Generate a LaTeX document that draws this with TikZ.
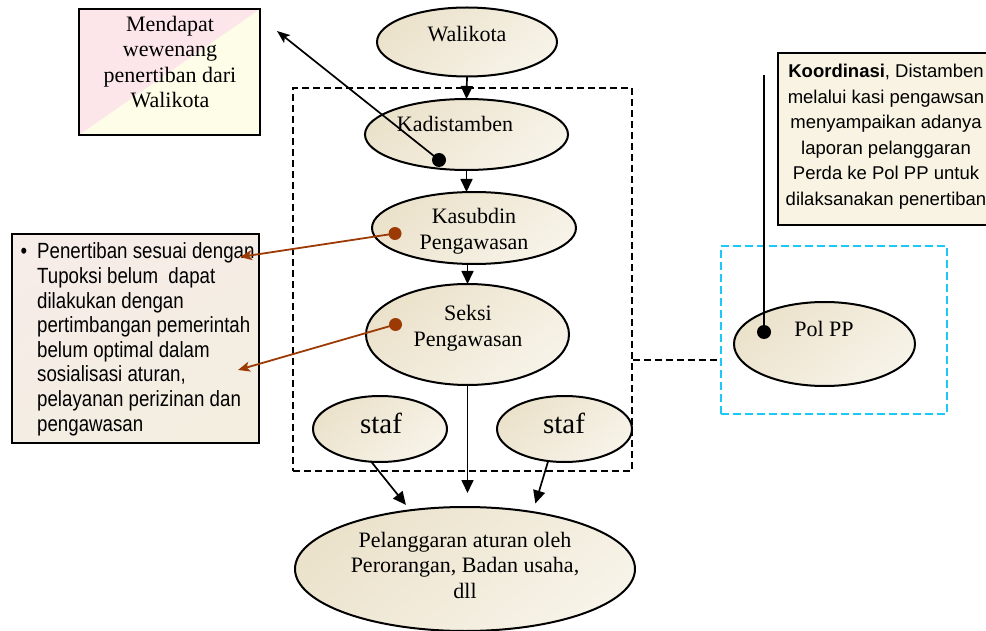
\documentclass[tikz,border=0pt]{standalone}
\usepackage{fontspec}
\setmainfont{Liberation Serif}
\newfontfamily\narrowsans[FakeStretch=0.85]{Liberation Sans}
\newfontfamily\notesans{Liberation Sans}
\usetikzlibrary{shapes.geometric,arrows.meta}

\definecolor{ovalTop}{HTML}{EBE2CB}
\definecolor{ovalBot}{HTML}{F7F3E8}
\definecolor{pinkPart}{HTML}{FDE6EA}
\definecolor{creamPart}{HTML}{FEFDE8}
\definecolor{noteTop}{HTML}{F6ECE8}
\definecolor{noteBot}{HTML}{F3EEE0}
\definecolor{noteRight}{HTML}{F8F3E3}
\definecolor{rust}{HTML}{9C3A06}
\definecolor{skyline}{HTML}{1CC8F5}

\begin{document}
\begin{tikzpicture}[x=1pt,y=-1pt,
  oval/.style={ellipse, draw=black, line width=2pt, top color=ovalTop,
    bottom color=ovalBot, shading angle=40, inner sep=0pt, outer sep=0pt},
  % multi-line labels are placed by the baseline of their last line
  lbl/.style={anchor=base, align=center, inner sep=0pt,
    font=\fontsize{22}{26}\selectfont},
  staflbl/.style={anchor=base, inner sep=0pt, font=\fontsize{29}{30}\selectfont},
  conn/.style={draw=black, line width=1.7pt},
  tri/.style={conn, -{Triangle[length=13pt,width=12pt]}},
  pointer/.style={conn, -{Stealth[length=13pt,width=10pt,inset=3pt]}},
  rustpointer/.style={draw=rust, line width=1.8pt,
    -{Stealth[length=12pt,width=10pt,inset=3pt]}},
  blackdot/.style={circle, fill=black, inner sep=0pt, minimum size=14pt},
  rustdot/.style={circle, fill=rust, inner sep=0pt, minimum size=13pt},
  grpbox/.style={rectangle, draw=black, line width=1.8pt,
    dash pattern=on 7pt off 4pt, inner sep=0pt},
  polframe/.style={rectangle, draw=skyline, line width=1.8pt,
    dash pattern=on 8pt off 4pt, inner sep=0pt},
  notebox/.style={rectangle, draw=black, line width=2pt, inner sep=0pt},
]
\useasboundingbox (0,0) rectangle (986,631);

% --- note boxes -------------------------------------------------------
\node[notebox, minimum width=181pt, minimum height=126pt, fill=creamPart,
  path picture={\fill[pinkPart] (path picture bounding box.south west)
     -- (path picture bounding box.north west)
     -- (path picture bounding box.north east) -- cycle;}]
  (wewenang) at (169.5,72) {};
\node[lbl, font=\fontsize{22}{25.5}\selectfont] at (170,108)
  {Mendapat\\wewenang\\penertiban dari\\Walikota};

\node[notebox, minimum width=247pt, minimum height=209pt,
  top color=noteTop, bottom color=noteBot, shading angle=30]
  (kendala) at (135.5,338.5) {};
\node[anchor=base west, align=left, inner sep=0pt,
  font=\narrowsans\fontsize{22}{24.6}\selectfont] at (37,431)
  {\llap{\textbullet\hspace{10pt}}Penertiban sesuai dengan\\
   Tupoksi belum~ dapat\\
   dilakukan dengan\\
   pertimbangan pemerintah\\
   belum optimal dalam\\
   sosialisasi aturan,\\
   pelayanan perizinan dan\\
   pengawasan};

\node[notebox, minimum width=214pt, minimum height=172pt, fill=noteRight]
  (koordinasi) at (885,139) {};
\node[anchor=base, align=center, inner sep=0pt,
  font=\notesans\fontsize{18.5}{25.6}\selectfont] at (886,205.5)
  {\textbf{Koordinasi}, Distamben\\
   melalui kasi pengawsan\\
   menyampaikan adanya\\
   laporan pelanggaran\\
   Perda ke Pol PP untuk\\
   dilaksanakan penertiban};

% --- dashed frames ----------------------------------------------------
\node[grpbox, minimum width=339pt, minimum height=383pt] (dinas) at (462.5,279.5) {};
\node[polframe, minimum width=226pt, minimum height=168pt] (polzone) at (834,330) {};
\draw[line width=1.8pt, dash pattern=on 7pt off 4pt]
  (dinas.east |- 0,360) -- (polzone.west |- 0,360);

% --- organisation ovals -----------------------------------------------
\node[oval, minimum width=180pt, minimum height=69pt]  (wali)    at (467,42) {};
\node[oval, minimum width=203pt, minimum height=71pt]  (kadis)   at (466.5,134.5) {};
\node[oval, minimum width=204pt, minimum height=72pt]  (kasub)   at (474,228) {};
\node[oval, minimum width=203pt, minimum height=101pt] (seksi)   at (467.5,334.5) {};
\node[oval, minimum width=134pt, minimum height=66pt]  (stafL)   at (380,429) {};
\node[oval, minimum width=135pt, minimum height=66pt]  (stafR)   at (564.5,429) {};
\node[oval, minimum width=340pt, minimum height=124pt] (langgar) at (465,569) {};
\node[oval, minimum width=181pt, minimum height=84pt]  (pol)     at (824.5,344) {};

\node[lbl] at (467,42)  {Walikota};
\node[lbl] at (455,132) {Kadistamben};
\node[lbl] at (474,250) {Kasubdin\\Pengawasan};
\node[lbl] at (468,346) {Seksi\\Pengawasan};
\node[staflbl] at (381,433) {staf};
\node[staflbl] at (564,433) {staf};
\node[lbl, font=\fontsize{22}{25.5}\selectfont] at (465,598)
  {Pelanggaran aturan oleh\\Perorangan, Badan usaha,\\dll};
\node[lbl] at (824,336) {Pol PP};

% --- chain of command ---------------------------------------------------
\draw[tri] (wali.south) -- (kadis.north);
\draw[tri] (kadis.south) -- (kadis.south |- kasub.north);
\draw[tri] (seksi.north |- kasub.south) -- (seksi.north);
\draw[tri, shorten >=14pt] (seksi.south) -- (seksi.south |- langgar.north);
\draw[tri, shorten >=7pt] (stafL.-105) -- (langgar.133);
\draw[tri, shorten >=9pt] (stafR.-117) -- (langgar.40);

% --- callout pointers ---------------------------------------------------
\coordinate (mtip)  at (277,31);
\coordinate (ntip1) at (240,257);
\coordinate (ntip2) at (238,370);
\coordinate (ktop)  at (764,75);

\node[blackdot] (kdot)  at (439,160) {};
\node[blackdot] (pdot)  at (764,332) {};
\node[rustdot]  (sdot1) at (395,233.5) {};
\node[rustdot]  (sdot2) at (395.5,324.5) {};

\draw[pointer] (kdot.center) -- (mtip);
\draw[conn] (ktop) -- (pdot.center);
\draw[rustpointer] (sdot1.center) -- (ntip1);
\draw[rustpointer] (sdot2.center) -- (ntip2);
\end{tikzpicture}
\end{document}
